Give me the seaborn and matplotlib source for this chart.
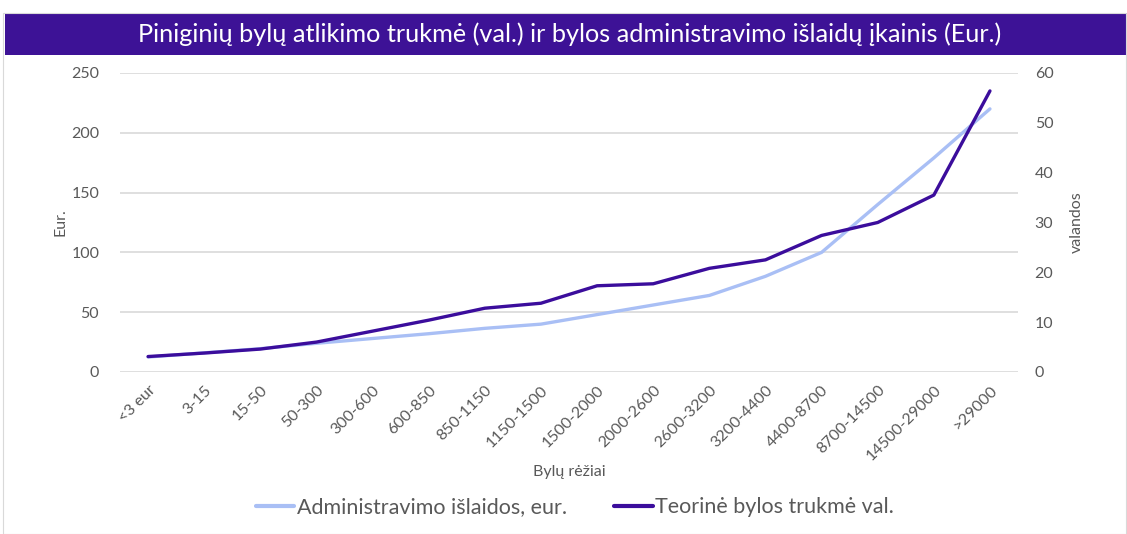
import matplotlib
matplotlib.use("Agg")
import matplotlib.pyplot as plt
import seaborn as sns
import pandas as pd
from matplotlib.patches import Rectangle
from matplotlib.lines import Line2D

# bylu rezimai (kategorijos)
categories = ["<3 eur", "3-15", "15-50", "50-300", "300-600", "600-850", "850-1150",
              "1150-1500", "1500-2000", "2000-2600", "2600-3200", "3200-4400",
              "4400-8700", "8700-14500", "14500-29000", ">29000"]
# administravimo islaidos, eur (kaire asis)
admin_eur = [12.5, 16, 19.5, 24, 28, 32, 36.5, 40, 48, 56, 64, 80, 100, 140, 179, 220]
# teorine bylos trukme, val. (desine asis)
hours = [3.1, 3.8, 4.6, 6.0, 8.2, 10.4, 12.8, 13.8, 17.3, 17.7, 20.8, 22.5, 27.4, 30.0, 35.5, 56.4]

light = "#A9BFF5"
dark = "#3B0D9C"
grey = "#595959"

df = pd.DataFrame({"pos": range(len(categories)), "cat": categories,
                   "admin": admin_eur, "hours": hours})

sns.set_style("white")
plt.rcParams["font.family"] = ["Lato", "DejaVu Sans"]

fig = plt.figure(figsize=(11.27, 5.34), dpi=100)
ax = fig.add_axes([0.1065, 0.3034, 0.7968, 0.5599])
ax2 = ax.twinx()

sns.lineplot(data=df, x="pos", y="admin", ax=ax, color=light, lw=2.4, sort=False)
sns.lineplot(data=df, x="pos", y="hours", ax=ax2, color=dark, lw=2.4, sort=False)

ax.set_xlim(-0.5, len(categories) - 0.5)
ax.set_ylim(0, 250)
ax2.set_ylim(0, 60)
ax.set_yticks(range(0, 251, 50))
ax2.set_yticks(range(0, 61, 10))
ax.yaxis.grid(True, color="#D9D9D9", lw=1.2)
ax.set_xticks(df["pos"])
ax.set_xticklabels(categories, rotation=45, ha="right", rotation_mode="anchor")
for a in (ax, ax2):
    for s in a.spines.values():
        s.set_visible(False)
    a.tick_params(length=0, labelsize=11.5, labelcolor=grey)
ax.tick_params(axis="x", pad=8)
ax.tick_params(axis="y", pad=15)
ax2.tick_params(axis="y", pad=12)

ax.set_xlabel("Bylų rėžiai", color=grey, fontsize=11.5)
ax.set_ylabel("Eur.", color=grey, fontsize=11.5)
ax2.set_ylabel("valandos", color=grey, fontsize=11.5)
ax.xaxis.set_label_coords(0.5, -0.31)
ax.yaxis.set_label_coords(-0.058, 0.5)
ax2.yaxis.set_label_coords(1.058, 0.5)

# title bar
fig.patches.append(Rectangle((0.004, 0.897), 0.996, 0.0787, transform=fig.transFigure,
                             facecolor="#3D1296", edgecolor="none", zorder=0))
fig.patches.append(Rectangle((0.003, 0.0), 0.996, 0.975, transform=fig.transFigure,
                             facecolor="none", edgecolor="#D9D9D9", lw=0.8, zorder=0))
fig.text(0.505, 0.936, "Piniginių bylų atlikimo trukmė (val.) ir bylos administravimo išlaidų įkainis (Eur.)",
         color="white", fontsize=18.2, ha="center", va="center")

handles = [Line2D([], [], color=light, lw=3), Line2D([], [], color=dark, lw=3)]
fig.legend(handles, ["Administravimo išlaidos, eur.", "Teorinė bylos trukmė val."],
           loc="center", bbox_to_anchor=(0.51, 0.05), ncol=2, frameon=False,
           fontsize=15.5, handlelength=1.8, handletextpad=0.1, columnspacing=2.2,
           labelcolor=grey)

fig.savefig("out.png", dpi=100)
